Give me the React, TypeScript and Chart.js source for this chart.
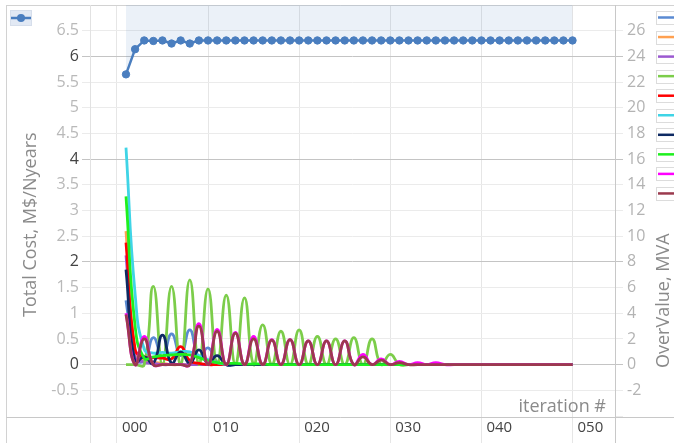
import React, { useEffect, useRef } from 'react';
import { Chart, registerables } from 'chart.js';

Chart.register(...registerables);

const FONT = '"Open Sans", "Noto Sans", sans-serif';

// iteration numbers (x values)
const iterations = [
  0, 1, 2, 3, 4, 5, 6, 7, 8, 9,
  10, 11, 12, 13, 14, 15, 16, 17, 18, 19,
  20, 21, 22, 23, 24, 25, 26, 27, 28, 29,
  30, 31, 32, 33, 34, 35, 36, 37, 38, 39,
  40, 41, 42, 43, 44, 45, 46, 47, 48, 49,
];

const xTickIterations = [-1, 9, 19, 29, 39, 49];
const xTickLabels = ['000', '010', '020', '030', '040', '050'];

const leftTitle = 'Total Cost, M$/Nyears';
const rightTitle = 'OverValue, MVA';
const xTitle = 'iteration #';

// Total cost (left axis)
const totalCost = [
  5.65, 6.14, 6.31, 6.3, 6.31, 6.25, 6.31, 6.25, 6.31, 6.31,
  6.31, 6.31, 6.31, 6.31, 6.31, 6.31, 6.31, 6.31, 6.31, 6.31,
  6.31, 6.31, 6.31, 6.31, 6.31, 6.31, 6.31, 6.31, 6.31, 6.31,
  6.31, 6.31, 6.31, 6.31, 6.31, 6.31, 6.31, 6.31, 6.31, 6.31,
  6.31, 6.31, 6.31, 6.31, 6.31, 6.31, 6.31, 6.31, 6.31, 6.31,
];

// OverValue series (right axis)
const overBlue = [
  5.0, 0.5, 0.3, 2.1, 0.6, 2.4, 0.7, 2.7, 0.6, 1.3,
  0.2, 0, 0, 0, 0, 0, 0, 0, 0, 0,
  0, 0, 0, 0, 0, 0, 0, 0, 0, 0,
  0, 0, 0, 0, 0, 0, 0, 0, 0, 0,
  0, 0, 0, 0, 0, 0, 0, 0, 0, 0,
];
const overOrange = [
  10.4, 1.0, 0.4, 0.2, 0.1, 0, 0, 0, 0, 0,
  0, 0, 0, 0, 0, 0, 0, 0, 0, 0,
  0, 0, 0, 0, 0, 0, 0, 0, 0, 0,
  0, 0, 0, 0, 0, 0, 0, 0, 0, 0,
  0, 0, 0, 0, 0, 0, 0, 0, 0, 0,
];
const overPurple = [
  8.5, 0.6, 0.2, 0.1, 0, 0, 0, 0, 0, 0,
  0, 0, 0, 0, 0, 0, 0, 0, 0, 0,
  0, 0, 0, 0, 0, 0, 0, 0, 0, 0,
  0, 0, 0, 0, 0, 0, 0, 0, 0, 0,
  0, 0, 0, 0, 0, 0, 0, 0, 0, 0,
];
const overLightGreen = [
  0, 0, 0, 6.1, 0, 6.1, 0, 6.6, 0, 5.9,
  0, 5.4, 0, 5.2, 0, 3.1, 0, 2.6, 0, 2.7,
  0, 2.2, 0, 2.0, 0, 2.1, 0, 2.0, 0, 0.8,
  0, 0, 0, 0, 0, 0, 0, 0, 0, 0,
  0, 0, 0, 0, 0, 0, 0, 0, 0, 0,
];
const overRed = [
  9.5, 1.2, 0.6, 0.55, 0.5, 0.45, 1.4, 0.3, 0.1, 0,
  0, 0, 0, 0, 0, 0, 0, 0, 0, 0,
  0, 0, 0, 0, 0, 0, 0, 0, 0, 0,
  0, 0, 0, 0, 0, 0, 0, 0, 0, 0,
  0, 0, 0, 0, 0, 0, 0, 0, 0, 0,
];
const overCyan = [
  16.9, 5.5, 1.2, 0.9, 0.95, 0.9, 1.0, 1.0, 0.7, 0.4,
  0.15, 0, 0, 0, 0, 0, 0, 0, 0, 0,
  0, 0, 0, 0, 0, 0, 0, 0, 0, 0,
  0, 0, 0, 0, 0, 0, 0, 0, 0, 0,
  0, 0, 0, 0, 0, 0, 0, 0, 0, 0,
];
const overNavy = [
  7.4, 0.2, 0.6, 0.1, 2.3, 0.1, 1.0, 0.1, 1.15, 0.1,
  0.7, 0, 0, 0, 0, 0, 0, 0, 0, 0,
  0, 0, 0, 0, 0, 0, 0, 0, 0, 0,
  0, 0, 0, 0, 0, 0, 0, 0, 0, 0,
  0, 0, 0, 0, 0, 0, 0, 0, 0, 0,
];
const overBrightGreen = [
  13.1, 3.0, 0.5, 0.6, 0.7, 0.75, 0.8, 0.75, 0.55, 0.3,
  0.15, 0.1, 0.1, 0.05, 0.05, 0.05, 0, 0, 0, 0,
  0, 0, 0, 0, 0, 0, 0, 0, 0, 0,
  0, 0, 0, 0, 0, 0, 0, 0, 0, 0,
  0, 0, 0, 0, 0, 0, 0, 0, 0, 0,
];
const overMagenta = [
  4.0, 0, 2.2, 0, 0, 0, 0, 0, 3.2, 0,
  2.75, 0, 2.5, 0, 2.2, 0, 1.95, 0, 1.95, 0,
  1.85, 0, 1.85, 0, 1.85, 0, 0.8, 0, 0.45, 0,
  0.25, 0, 0.15, 0, 0.15, 0, 0, 0, 0, 0,
  0, 0, 0, 0, 0, 0, 0, 0, 0, 0,
];
const overMaroon = [
  3.9, 0, 2.0, 0, 0, 0, 0, 0, 3.0, 0,
  2.6, 0, 2.45, 0, 2.0, 0, 1.9, 0, 1.95, 0,
  1.85, 0, 1.85, 0, 1.85, 0, 0.6, 0, 0.35, 0,
  0.15, 0, 0, 0, 0, 0, 0, 0, 0, 0,
  0, 0, 0, 0, 0, 0, 0, 0, 0, 0,
];

const overSeries = [
  overBlue, overOrange, overPurple, overLightGreen, overRed,
  overCyan, overNavy, overBrightGreen, overMagenta, overMaroon,
];
const overNames = [
  'S1', 'S2', 'S3', 'S4', 'S5', 'S6', 'S7', 'S8', 'S9', 'S10',
];
const overColors = [
  '#5a8ad2', '#ffa050', '#9b59d0', '#7ccd4a', '#ff0000',
  '#3fd4e6', '#0e2a63', '#1ef01e', '#ff00ff', '#9b3a4e',
];
const costColor = '#4a7ebf';

const MAJOR = '#c4c4c4';
const MINOR = '#ebebeb';

const zeroPad = (s: any) => {
  s.paddingTop = 0;
  s.paddingBottom = 0;
  s.paddingLeft = 0;
  s.paddingRight = 0;
};

const decorPlugin = {
  id: 'decor',
  beforeDatasetsDraw(chart: any) {
    const { ctx, chartArea: a, width, height } = chart;
    const line = (x1: number, y1: number, x2: number, y2: number, c: string) => {
      ctx.strokeStyle = c;
      ctx.lineWidth = 1;
      ctx.beginPath();
      ctx.moveTo(x1, y1);
      ctx.lineTo(x2, y2);
      ctx.stroke();
    };
    ctx.save();
    line(6.5, a.top + 0.5, width, a.top + 0.5, '#d2d2d2');
    line(6.5, a.top, 6.5, height, '#d2d2d2');
    line(a.left + 0.5, a.top, a.left + 0.5, height, '#e2e2e2');
    line(a.right + 0.5, a.top, a.right + 0.5, height, '#c8c8c8');
    line(6.5, a.bottom + 1.5, width, a.bottom + 1.5, '#c8c8c8');
    ctx.restore();
  },
  afterDraw(chart: any) {
    const { ctx } = chart;
    ctx.save();
    // axis titles
    ctx.font = `18px ${FONT}`;
    ctx.fillStyle = '#8a8a8a';
    ctx.save();
    ctx.translate(31, 317);
    ctx.rotate(-Math.PI / 2);
    ctx.textAlign = 'left';
    ctx.textBaseline = 'middle';
    ctx.fillText(leftTitle, 0, 0);
    ctx.restore();
    ctx.save();
    ctx.translate(664, 368);
    ctx.rotate(-Math.PI / 2);
    ctx.textAlign = 'left';
    ctx.textBaseline = 'middle';
    ctx.fillText(rightTitle, 0, 0);
    ctx.restore();
    ctx.textAlign = 'right';
    ctx.textBaseline = 'alphabetic';
    ctx.fillText(xTitle, 606, 412);

    // top-left legend (total cost)
    ctx.fillStyle = '#e2e9f4';
    ctx.fillRect(10, 10, 22, 16);
    ctx.strokeStyle = '#d6deeb';
    ctx.lineWidth = 1;
    ctx.strokeRect(10.5, 10.5, 21, 15);
    ctx.strokeStyle = costColor;
    ctx.lineWidth = 2.5;
    ctx.beginPath();
    ctx.moveTo(11, 18);
    ctx.lineTo(31, 18);
    ctx.stroke();
    ctx.fillStyle = costColor;
    ctx.beginPath();
    ctx.arc(21, 18, 4, 0, Math.PI * 2);
    ctx.fill();

    // right legend (over value series)
    overColors.forEach((c, i) => {
      const y = 17.5 + i * 19.55;
      ctx.fillStyle = '#ffffff';
      ctx.fillRect(656, y - 6.5, 30, 13);
      ctx.strokeStyle = '#dcdcdc';
      ctx.lineWidth = 1;
      ctx.strokeRect(656.5, Math.round(y - 6.5) + 0.5, 30, 13);
      ctx.strokeStyle = c;
      ctx.lineWidth = 2.5;
      ctx.beginPath();
      ctx.moveTo(658, y);
      ctx.lineTo(674, y);
      ctx.stroke();
    });
    ctx.restore();
  },
};

export default function App() {
  const ref = useRef<HTMLCanvasElement>(null);

  useEffect(() => {
    const canvas = ref.current;
    if (!canvas) return;

    const lowerDatasets = overSeries.map((vals, i) => ({
      label: overNames[i],
      data: iterations.map((x, k) => ({ x, y: vals[k] })),
      borderColor: overColors[i],
      backgroundColor: overColors[i],
      borderWidth: 2.8,
      pointRadius: 0,
      tension: 0.5,
      fill: false,
      yAxisID: 'y2',
      order: 20 - i,
    }));

    const chart = new Chart(canvas, {
      type: 'line',
      data: {
        datasets: [
          {
            label: 'Total Cost',
            data: iterations.map((x, k) => ({ x, y: totalCost[k] })),
            borderColor: costColor,
            backgroundColor: 'rgba(74, 126, 191, 0.11)',
            borderWidth: 2.5,
            pointRadius: 3.7,
            pointBorderWidth: 1,
            pointBackgroundColor: costColor,
            pointBorderColor: costColor,
            tension: 0,
            fill: 'end',
            yAxisID: 'y',
            order: 0,
          },
          ...lowerDatasets,
        ] as any,
      },
      options: {
        animation: false,
        responsive: false,
        devicePixelRatio: 1,
        layout: { padding: { top: 5, left: 0, right: 0, bottom: 0 } },
        plugins: {
          legend: { display: false },
          tooltip: { enabled: false },
        },
        scales: {
          x: {
            type: 'linear',
            min: -3.95,
            max: 53.66,
            afterFit: (s: any) => {
              s.height = 27;
              zeroPad(s);
            },
            afterBuildTicks: (s: any) => {
              s.ticks = xTickIterations.map((v) => ({ value: v }));
            },
            ticks: {
              autoSkip: false,
              maxRotation: 0,
              minRotation: 0,
              align: 'start',
              labelOffset: 5,
              padding: -24,
              color: '#444444',
              font: { family: FONT, size: 15 },
              callback: (_v: any, i: number) => xTickLabels[i],
            },
            grid: { color: '#e6e6e6', tickLength: 27 },
            border: { display: false },
          },
          y: {
            type: 'linear',
            position: 'left',
            min: -1,
            max: 7,
            afterFit: (s: any) => {
              s.width = 90;
              zeroPad(s);
            },
            ticks: {
              stepSize: 0.5,
              autoSkip: false,
              padding: 3,
              font: { family: FONT, size: 16 },
              color: (c: any) => (c.tick && c.tick.value >= 0 && c.tick.value % 2 === 0 ? '#444444' : '#b9b9b9'),
              callback: (v: any) => (v === -1 || v === 7 ? '' : String(v)),
            },
            grid: {
              tickLength: 8,
              color: (c: any) => {
                const v = c.tick ? c.tick.value : 0;
                if (v === -1) return 'rgba(0,0,0,0)';
                return v >= 0 && v % 2 === 0 ? MAJOR : MINOR;
              },
            },
            border: { display: false },
          },
          y2: {
            type: 'linear',
            position: 'right',
            min: -4,
            max: 28,
            afterFit: (s: any) => {
              s.width = 59;
              zeroPad(s);
            },
            ticks: {
              stepSize: 2,
              autoSkip: false,
              padding: 4,
              color: '#b3b3b3',
              font: { family: FONT, size: 16 },
              callback: (v: any) => (v === -4 || v === 28 ? '' : String(v)),
            },
            grid: {
              drawOnChartArea: false,
              tickLength: 8,
              color: (c: any) => {
                const v = c.tick ? c.tick.value : 0;
                return v >= 0 && v % 8 === 0 ? MAJOR : MINOR;
              },
            },
            border: { display: false },
          },
        },
      } as any,
      plugins: [decorPlugin],
    });

    return () => {
      chart.destroy();
    };
  }, []);

  return (
    <div style={{ position: 'fixed', left: 0, top: 0, width: 674, height: 443, background: '#ffffff' }}>
      <canvas ref={ref} width={674} height={443} style={{ display: 'block', width: 674, height: 443 }} />
    </div>
  );
}
